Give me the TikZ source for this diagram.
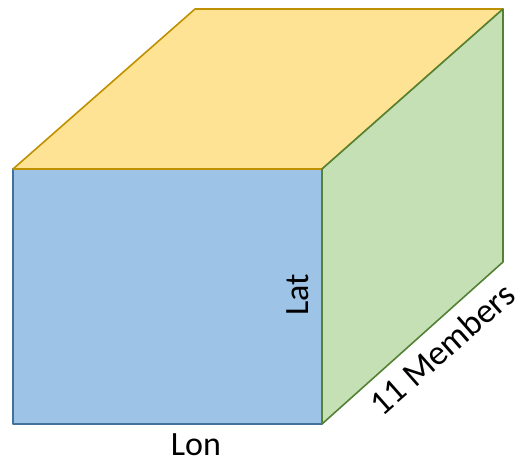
\documentclass[tikz,border=0pt]{standalone}
\usepackage{fontspec}
\setmainfont{Carlito}
\usepackage{xcolor}
\usepackage{tikz}
\usetikzlibrary{positioning,calc}

\definecolor{topfill}{HTML}{FFE394}
\definecolor{topline}{HTML}{BF9000}
\definecolor{frontfill}{HTML}{9DC3E6}
\definecolor{frontline}{HTML}{41719C}
\definecolor{sidefill}{HTML}{C5E0B4}
\definecolor{sideline}{HTML}{538135}

\begin{document}
\begin{tikzpicture}[x=1pt, y=-1pt, line width=1.6pt, line join=round,
  lbl/.style={font=\fontsize{34}{40}\selectfont, inner sep=0pt}]
\useasboundingbox (0,0) rectangle (521,464);
% corners of the cube
\coordinate (fbl) at (13,424);
\coordinate (fbr) at (322,424);
\coordinate (ftl) at (13,169);
\coordinate (ftr) at (322,169);
\coordinate (btl) at (195,9);
\coordinate (btr) at (503,9);
\coordinate (bbr) at (503,262);
% front face
\draw[frontline, fill=frontfill] (fbl) rectangle (ftr);
% top face
\draw[topline, fill=topfill] (ftl) -- (btl) -- (btr) -- (ftr) -- cycle;
% side face
\draw[sideline, fill=sidefill] (ftr) -- (btr) -- (bbr) -- (fbr) -- cycle;
% labels
\node[lbl] (lon) at (196,445) {Lon};
\node[lbl, rotate=90] (lat) at (298,295) {Lat};
\node[lbl, font=\fontsize{35}{41}\selectfont, rotate=41.5] (members) at (442,349) {11 Members};
\end{tikzpicture}
\end{document}
